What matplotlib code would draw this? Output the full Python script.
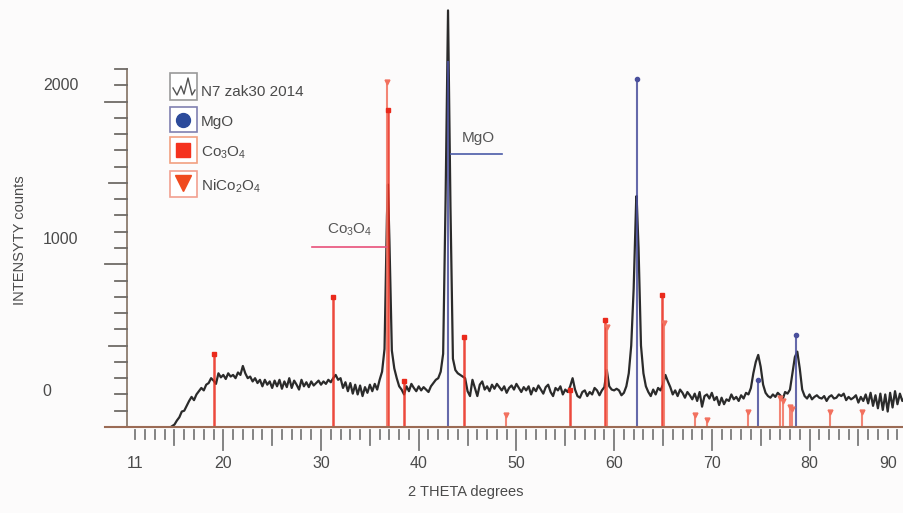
import numpy as np
import matplotlib
matplotlib.use("Agg")
import matplotlib.pyplot as plt
from matplotlib.patches import Rectangle
from matplotlib.transforms import blended_transform_factory as blend

plt.rcParams['font.family'] = ['Liberation Sans', 'DejaVu Sans']
plt.rcParams['mathtext.fontset'] = 'custom'
plt.rcParams['mathtext.rm'] = 'Liberation Sans'

nan = np.nan

# ---------------- measured pattern (counts every 0.25 deg from 14.0) ----------------
counts = [
    nan, nan, nan, 5,            # 14
    15, 40, 60, 95,              # 15
    100, 130, 160, 185,          # 16
    165, 200, 220, 240,          # 17
    225, 260, 270, 300,          # 18
    285, 265, 330, 305,          # 19
    320, 295, 330, 310,          # 20
    320, 300, 335, 320,          # 21
    375, 330, 300, 310,          # 22
    280, 300, 270, 290,          # 23
    250, 290, 260, 280,          # 24
    240, 285, 250, 290,          # 25
    235, 280, 245, 300,          # 26
    240, 285, 260, 230,          # 27
    290, 250, 275, 245,          # 28
    280, 255, 270, 285,          # 29
    260, 280, 265, 290,          # 30
    275, 300, 320, 290,          # 31
    300, 240, 275, 220,          # 32
    270, 205, 260, 200,          # 33
    255, 190, 245, 210,          # 34
    260, 220, 265, 230,          # 35
    290, 340, 480, 1300,         # 36
    1150, 470, 360, 300,         # 37
    250, 230, 200, 250,          # 38
    220, 265, 240, 220,          # 39
    250, 225, 245, 230,          # 40
    215, 250, 270, 290,          # 41
    300, 340, 450, 1400,         # 42
    2560, 1350, 420, 350,        # 43
    330, 320, 310, 300,          # 44
    220, 190, 290, 240,          # 45
    190, 260, 280, 230,          # 46
    250, 220, 260, 235,          # 47
    265, 245, 225, 250,          # 48
    210, 240, 255, 230,          # 49
    265, 240, 215, 245,          # 50
    225, 250, 200, 240,          # 51
    220, 255, 230, 205,          # 52
    245, 260, 215, 190,          # 53
    240, 225, 250, 200,          # 54
    230, 215, 250, 300,          # 55
    230, 190, 180, 215,          # 56
    225, 190, 215, 200,          # 57
    240, 225, 195, 225,          # 58
    245, 350, 250, 230,          # 59
    225, 235, 225, 195,          # 60
    210, 250, 330, 500,          # 61
    850, 1380, 1100, 500,        # 62
    330, 250, 215, 190,          # 63
    230, 200, 240, 225,          # 64
    260, 320, 280, 245,          # 65
    200, 225, 190, 230,          # 66
    210, 180, 215, 195,          # 67
    170, 205, 160, 215,          # 68
    125, 190, 200, 175,          # 69
    210, 165, 185, 135,          # 70
    180, 140, 170, 160,          # 71
    200, 170, 185, 160,          # 72
    195, 175, 210, 200,          # 73
    240, 330, 400, 443,          # 74
    370, 260, 210, 190,          # 75
    180, 200, 185, 210,          # 76
    195, 170, 215, 205,          # 77
    230, 330, 430, 463,          # 78
    360, 230, 190, 175,          # 79
    200, 170, 185, 195,          # 80
    180, 175, 190, 160,          # 81
    185, 195, 175, 180,          # 82
    200, 190, 205, 165,          # 83
    185, 170, 180, 195,          # 84
    150, 185, 160, 200,          # 85
    145, 210, 130, 195,          # 86
    115, 205, 105, 200,          # 87
    95, 210, 120, 220,           # 88
    140, 205, 160, 180,          # 89
]
two_theta = 14 + 0.25 * np.arange(len(counts))

# sharper peak tops between grid points
top_x = [36.85, 62.3]
top_y = [1490, 1420]

# reference sticks
mgo_pos = [43.0, 62.3, 74.7, 78.65]
mgo_int = [2250, 2140, 290, 565]
mgo_marked = [False, True, True, True]
co3o4_pos = [19.09, 31.27, 36.87, 38.5, 44.64, 55.5, 59.07, 64.93]
co3o4_int = [450, 800, 1950, 280, 555, 227, 660, 810]
nico_pos = [36.72, 48.9, 59.24, 65.1, 68.3, 69.5, 73.7, 77.0, 77.3, 78.0, 78.2, 82.1, 85.4]
nico_int = [2120, 74, 615, 640, 74, 43, 94, 178, 160, 125, 110, 94, 90]

x_ticklabels = [11, 20, 30, 40, 50, 60, 70, 80]

# ------------------------------ plot ------------------------------
fig = plt.figure(figsize=(9.04, 5.13), dpi=100, facecolor='#fcfbfb')
W, H = 904, 513
ax = fig.add_axes([105 / W, 1 - 427 / H, 1 - 105 / W, 427 / H])
ax.axis('off')

x_all = np.concatenate([two_theta, top_x])
y_all = np.concatenate([counts, top_y])
order = np.argsort(x_all)
ax.plot(x_all[order], y_all[order], color='#2b2b2b', lw=1.6, zorder=2)

MGO_C, CO_C, NI_C = '#4a4f9c', '#ea2a1c', '#f2705e'
ax.vlines(co3o4_pos, 0, co3o4_int, color=CO_C, lw=1.8, alpha=0.85, zorder=3)
ax.plot(co3o4_pos, co3o4_int, 's', color=CO_C, ms=2.5, zorder=4)
ax.vlines(nico_pos, 0, nico_int, color=NI_C, lw=1.5, alpha=0.85, zorder=3)
ax.plot(nico_pos, nico_int, 'v', color=NI_C, ms=3.5, zorder=4)
ax.vlines(mgo_pos, 0, mgo_int, color=MGO_C, lw=1.5, alpha=0.85, zorder=3)
ax.plot(np.array(mgo_pos)[mgo_marked], np.array(mgo_int)[mgo_marked], 'o', color=MGO_C, ms=3, zorder=4)

# overlay in pixel coordinates for the hand-made frame, labels and legend
ov = fig.add_axes([0, 0, 1, 1], zorder=5)
ov.set_xlim(0, W)
ov.set_ylim(H, 0)
ov.axis('off')

TXT = '#4a4a4a'
# x axis line and ticks
ov.plot([105, W], [427, 427], color='#9b6b55', lw=1.5)
bx = blend(ax.transData, ov.transData)
for d in range(11, 91):
    L = 20 if d % 10 == 0 else (15 if d % 5 == 0 else 9)
    ax.plot([d, d], [430, 430 + L], color='#7a7a7a', lw=1.3, transform=bx, clip_on=False)
for d in x_ticklabels:
    ax.text(d, 463, str(d), transform=bx, ha='center', va='center', fontsize=11.5, color=TXT, clip_on=False)
ov.text(888, 463, '90', ha='center', va='center', fontsize=11.5, color=TXT)

# y spine and ticks
by = blend(ov.transData, ax.transData)
ax.plot([127, 127], [0, 2200], color='#8c7b6e', lw=1.3, transform=by, clip_on=False)
for v in range(100, 2201, 100):
    L = 22 if v % 1000 == 0 else (17.7 if v % 500 == 0 else 11.7)
    ax.plot([127 - L, 127], [v, v], color='#6f6a66', lw=1.3, transform=by, clip_on=False)
ov.text(47, 392, '0', ha='center', va='center', fontsize=11.5, color=TXT)
ov.text(61, 240, '1000', ha='center', va='center', fontsize=11.5, color=TXT)
ov.text(61, 85, '2000', ha='center', va='center', fontsize=11.5, color=TXT)

ov.text(20, 240, 'INTENSYTY counts', rotation=90, ha='center', va='center', fontsize=10.5, color=TXT)
ov.text(466, 492, '2 THETA degrees', ha='center', va='center', fontsize=10.5, color=TXT)

# phase annotations
ov.plot([312, 387], [247, 247], color='#e8507a', lw=1.2)
ov.text(350, 230, r'$\mathregular{Co_3O_4}$', ha='center', va='center', fontsize=11, color='#555555')
ov.plot([451, 502], [153.7, 153.7], color='#4b5ba8', lw=1.2)
ov.text(478, 138, 'MgO', ha='center', va='center', fontsize=11, color='#555555')

# legend
boxes = [(73, 100, '#9a9a9a'), (107, 132, '#8080b0'), (137, 163, '#f2a080'), (171, 197, '#f2a090')]
for y0, y1, ec in boxes:
    ov.add_patch(Rectangle((170, y0), 27, y1 - y0, fc='white', ec=ec, lw=1.2))
ov.plot([173, 177, 181, 184, 188, 192, 195], [88, 95, 86, 94, 78, 95, 90], color='#555555', lw=1.0)
ov.plot(183.5, 120, 'o', color='#2c4b9b', ms=10)
ov.plot(183.5, 150, 's', color='#f5321e', ms=10)
ov.plot(183.5, 183, 'v', color='#f04a1e', ms=11)
ov.text(201, 92, 'N7 zak30 2014', va='center', fontsize=11, color=TXT)
ov.text(201, 122, 'MgO', va='center', fontsize=11, color=TXT)
ov.text(201, 153, r'$\mathregular{Co_3O_4}$', va='center', fontsize=11, color=TXT)
ov.text(201, 186, r'$\mathregular{NiCo_2O_4}$', va='center', fontsize=11, color=TXT)

ax.set_xlim(7.89, 89.67)
ax.set_ylim(0, 2624)

fig.savefig('out.png', dpi=100, facecolor=fig.get_facecolor())
